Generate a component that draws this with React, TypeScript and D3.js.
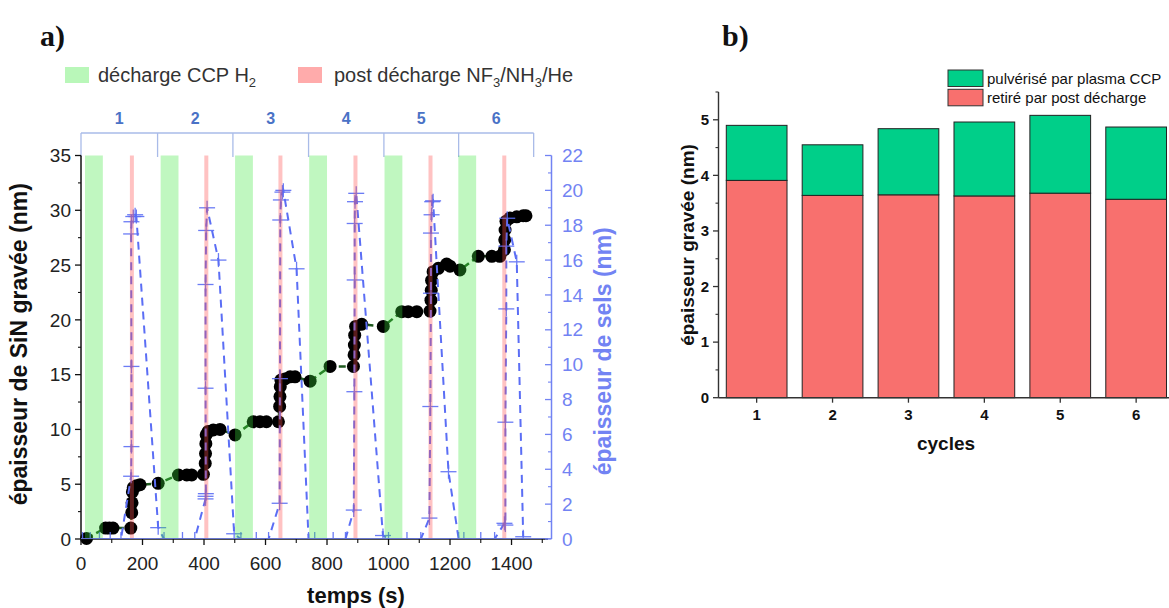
import React from 'react';
import * as d3 from 'd3';

// ---------- Panel a) data ----------
const timeTicks = [0, 200, 400, 600, 800, 1000, 1200, 1400];
const timeMinor = [100, 300, 500, 700, 900, 1100, 1300, 1500];
const sinTicks = [0, 5, 10, 15, 20, 25, 30, 35];
const saltTicks = [0, 2, 4, 6, 8, 10, 12, 14, 16, 18, 20, 22];
const cycleLabels = ['1', '2', '3', '4', '5', '6'];
const cycleBounds = [0, 249, 494, 740, 985, 1228, 1472];
const greenStarts = [13, 259, 501, 742, 987, 1227];
const greenDur = 58;
const redStarts = [159, 401, 642, 886, 1130, 1370];
const redDur = 13;

// SiN etched thickness (nm) vs time (s)
const sinTime = [18, 80, 92, 104, 162, 165, 166, 167, 170, 180, 192,
  251, 317, 344, 360, 398, 404, 405, 406, 407, 413, 430, 452,
  501, 560, 582, 603, 642, 646, 647, 648, 650, 663, 680, 696,
  745, 810, 886, 888, 889, 890, 893, 913,
  983, 1043, 1064, 1092, 1135, 1138, 1139, 1140, 1145, 1162, 1189, 1200,
  1232, 1292, 1336, 1362, 1377, 1378, 1379, 1382, 1395, 1417, 1438, 1447];
const sinValue = [0.05, 1.0, 1.0, 1.0, 1.0, 2.4, 3.3, 4.3, 4.7, 4.85, 4.95,
  5.08, 5.84, 5.84, 5.84, 5.9, 6.9, 7.8, 8.7, 9.5, 9.8, 9.95, 10.0,
  9.5, 10.7, 10.7, 10.7, 10.7, 12.1, 13.0, 13.9, 14.5, 14.6, 14.8, 14.8,
  14.4, 15.75, 15.75, 16.8, 17.7, 18.6, 19.4, 19.6,
  19.4, 20.75, 20.75, 20.75, 20.8, 21.8, 22.7, 23.6, 24.4, 24.7, 25.1, 24.9,
  24.55, 25.8, 25.8, 25.8, 26.4, 27.3, 28.2, 29.0, 29.3, 29.4, 29.5, 29.5];

// salt thickness (nm) vs time (s)
const saltTime = [5, 30, 60, 95, 130,
  163, 164, 164, 163, 164, 170, 176, 180, 251,
  270, 330, 370,
  405, 405, 406, 405, 405, 407, 410, 447, 498,
  520, 570, 610,
  646, 647, 648, 650, 655, 658, 701, 740,
  760, 820, 860,
  887, 889, 890, 890, 891, 895, 982,
  1000, 1060, 1105,
  1133, 1136, 1138, 1138, 1140, 1142, 1145, 1195, 1228,
  1245, 1300, 1345,
  1377, 1380, 1380, 1383, 1383, 1386, 1417, 1438];
const saltValue = [0, 0, 0, 0, 0,
  3.6, 5.3, 9.9, 17.5, 18.2, 18.5, 18.6, 18.5, 0.65,
  0, 0, 0,
  2.3, 2.45, 2.6, 8.65, 14.6, 17.7, 19.0, 16.0, 0.3,
  0, 0, 0,
  2.05, 9.2, 18.3, 19.45, 19.9, 20.0, 15.5, 0,
  0, 0, 0,
  1.66, 8.45, 14.86, 18.1, 19.35, 19.83, 0.2,
  0, 0, 0,
  1.2, 7.6, 14.1, 17.55, 18.6, 19.35, 19.4, 3.86, 0,
  0, 0, 0,
  0.9, 0.8, 6.7, 13.2, 16.8, 18.4, 15.9, 0.13];

// ---------- Panel b) data ----------
const cycles = ['1', '2', '3', '4', '5', '6'];
const removedPost = [3.91, 3.64, 3.65, 3.63, 3.68, 3.57];
const totalEtched = [4.90, 4.55, 4.84, 4.96, 5.08, 4.87];
const barTicks = [0, 1, 2, 3, 4, 5];
const barMinor = [0.5, 1.5, 2.5, 3.5, 4.5, 5.5];

const SANS = '"Liberation Sans", Arial, Helvetica, sans-serif';
const SERIF = '"Liberation Serif", "DejaVu Serif", serif';
const BLUE = '#5b6ef5';
const AXBLUE = '#7283f3';

export default function App() {
  // panel a scales
  const xL = d3.scaleLinear().domain([0, 1530]).range([81, 551.5]);
  const yL = d3.scaleLinear().domain([0, 35]).range([539, 155.5]);
  const yR = d3.scaleLinear().domain([0, 22]).range([539, 155.5]);

  const sinPts: [number, number][] = sinTime.map((t, i) => [xL(t), yL(sinValue[i])]);
  const saltPts: [number, number][] = saltTime.map((t, i) => [xL(t), yR(saltValue[i])]);
  const lineGen = d3.line<[number, number]>().x(d => d[0]).y(d => d[1]);

  const sinMinor = d3.range(2.5, 35, 5);
  const saltMinor = d3.range(1, 22, 2);

  // panel b scales
  const xB = d3.scaleBand<string>().domain(cycles).range([718.7, 1174.1]).paddingInner(0.2).paddingOuter(0.1);
  const yB = d3.scaleLinear().domain([0, 5.5]).range([397.7, 92]);

  return (
    <svg width={1169} height={608} style={{ position: 'absolute', left: 0, top: 0, background: '#fff' }}
      xmlns="http://www.w3.org/2000/svg">
      <defs>
        <clipPath id="plotA">
          <rect x={81} y={140} width={471} height={399} />
        </clipPath>
      </defs>
      <rect x={0} y={0} width={1169} height={608} fill="#fff" />

      {/* ===== Panel a ===== */}
      <text x={40} y={46} fontFamily={SERIF} fontSize={30} fontWeight="bold" fill="#111">a)</text>

      {/* legend */}
      <rect x={65} y={67} width={24} height={16} fill="#b9f7b9" />
      <text x={98} y={82} fontFamily={SANS} fontSize={20} fill="#333">
        décharge CCP H<tspan fontSize={13} dy={5}>2</tspan>
      </text>
      <rect x={298} y={67} width={24} height={16} fill="#ffabab" />
      <text x={334} y={82} fontFamily={SANS} fontSize={20} fill="#333">
        post décharge NF<tspan fontSize={13} dy={5}>3</tspan><tspan dy={-5}>/NH</tspan><tspan fontSize={13} dy={5}>3</tspan><tspan dy={-5}>/He</tspan>
      </text>

      {/* cycle bracket */}
      <line x1={xL(cycleBounds[0])} x2={xL(cycleBounds[cycleBounds.length - 1])} y1={133} y2={133}
        stroke="#a9bbe8" strokeWidth={1.3} />
      {cycleBounds.map((b, i) => (
        <line key={'cb' + i} x1={xL(b)} x2={xL(b)} y1={133} y2={157} stroke="#a9bbe8" strokeWidth={1.3} />
      ))}
      {cycleLabels.map((c, i) => (
        <text key={'cl' + i} x={xL((cycleBounds[i] + cycleBounds[i + 1]) / 2)} y={124} textAnchor="middle"
          fontFamily={SANS} fontSize={16} fontWeight="bold" fill="#4a72c6">{c}</text>
      ))}

      {/* SiN series */}
      <path d={lineGen(sinPts) || ''} fill="none" stroke="#1f5a1f" strokeWidth={2.5} strokeDasharray="7 4" />
      {sinPts.map((p, i) => (
        <circle key={'s' + i} cx={p[0]} cy={p[1]} r={6.5} fill="#000" />
      ))}

      {/* salt series */}
      <g clipPath="url(#plotA)">
        <path d={lineGen(saltPts) || ''} fill="none" stroke={BLUE} strokeWidth={2} strokeDasharray="8 6" />
        {saltPts.map((p, i) => (
          <g key={'p' + i} stroke={BLUE} strokeWidth={1.3} opacity={0.9}>
            <line x1={p[0] - 8} x2={p[0] + 8} y1={p[1]} y2={p[1]} />
            <line x1={p[0]} x2={p[0]} y1={p[1] - 7} y2={p[1] + 7} />
          </g>
        ))}
      </g>

      {/* bands (translucent, on top) */}
      {greenStarts.map((s, i) => (
        <rect key={'g' + i} x={xL(s)} y={yL(35)} width={xL(s + greenDur) - xL(s)} height={yL(0) - yL(35)}
          fill="rgb(60,230,60)" fillOpacity={0.32} />
      ))}
      {redStarts.map((s, i) => (
        <rect key={'r' + i} x={xL(s)} y={yL(35)} width={xL(s + redDur) - xL(s)} height={yL(0) - yL(35)}
          fill="rgb(255,80,80)" fillOpacity={0.35} />
      ))}

      {/* left axis */}
      <line x1={81} x2={81} y1={yL(35)} y2={yL(0)} stroke="#111" strokeWidth={1.5} />
      {sinTicks.map(v => (
        <g key={'lt' + v}>
          <line x1={75} x2={81} y1={yL(v)} y2={yL(v)} stroke="#111" strokeWidth={1.3} />
          <text x={71} y={yL(v)} dy="0.35em" textAnchor="end" fontFamily={SANS} fontSize={19} fill="#222">{v}</text>
        </g>
      ))}
      {sinMinor.map(v => (
        <line key={'lm' + v} x1={78} x2={81} y1={yL(v)} y2={yL(v)} stroke="#111" strokeWidth={1.1} />
      ))}
      <text transform={`translate(27,${(yL(0) + yL(35)) / 2 - 3}) rotate(-90)`} textAnchor="middle"
        fontFamily={SANS} fontSize={23} fontWeight="bold" fill="#111">épaisseur de SiN gravée (nm)</text>

      {/* bottom axis */}
      <line x1={81} x2={548} y1={539} y2={539} stroke="#111" strokeWidth={1.5} />
      <line x1={81} x2={551.5} y1={538.5} y2={538.5} stroke={AXBLUE} strokeWidth={1} opacity={0.8} />
      {timeTicks.map(t => (
        <g key={'bt' + t}>
          <line x1={xL(t)} x2={xL(t)} y1={539} y2={545} stroke="#111" strokeWidth={1.3} />
          <text x={xL(t)} y={563} dy="0.35em" textAnchor="middle" fontFamily={SANS} fontSize={19} fill="#222">{t}</text>
        </g>
      ))}
      {timeMinor.map(t => (
        <line key={'bm' + t} x1={xL(t)} x2={xL(t)} y1={539} y2={543} stroke="#111" strokeWidth={1.1} />
      ))}
      <text x={356} y={595} dy="0.35em" textAnchor="middle" fontFamily={SANS} fontSize={22} fontWeight="bold" fill="#111">temps (s)</text>

      {/* right axis */}
      <line x1={551.5} x2={551.5} y1={yR(22)} y2={yR(0)} stroke={AXBLUE} strokeWidth={1.5} />
      {saltTicks.map(v => (
        <g key={'rt' + v}>
          <line x1={545} x2={551.5} y1={yR(v)} y2={yR(v)} stroke={AXBLUE} strokeWidth={1.3} />
          <text x={562} y={yR(v)} dy="0.35em" textAnchor="start" fontFamily={SANS} fontSize={19} fill={AXBLUE}>{v}</text>
        </g>
      ))}
      {saltMinor.map(v => (
        <line key={'rm' + v} x1={548} x2={551.5} y1={yR(v)} y2={yR(v)} stroke={AXBLUE} strokeWidth={1.1} />
      ))}
      <text transform={`translate(611,${(yR(0) + yR(22)) / 2 + 4}) rotate(-90)`} textAnchor="middle"
        fontFamily={SANS} fontSize={23} fontWeight="bold" fill={AXBLUE}>épaisseur de sels (nm)</text>

      {/* ===== Panel b ===== */}
      <text x={722} y={46} fontFamily={SERIF} fontSize={30} fontWeight="bold" fill="#111">b)</text>

      {cycles.map((c, i) => (
        <g key={'bar' + c}>
          <rect x={xB(c)} y={yB(removedPost[i])} width={xB.bandwidth()} height={yB(0) - yB(removedPost[i])}
            fill="#f8706e" stroke="#222" strokeWidth={1} />
          <rect x={xB(c)} y={yB(totalEtched[i])} width={xB.bandwidth()} height={yB(removedPost[i]) - yB(totalEtched[i])}
            fill="#00cf89" stroke="#222" strokeWidth={1} />
        </g>
      ))}

      {/* axes b */}
      <line x1={718.5} x2={718.5} y1={92} y2={yB(0)} stroke="#333" strokeWidth={1.4} />
      <line x1={718.5} x2={1169} y1={yB(0)} y2={yB(0)} stroke="#333" strokeWidth={1.4} />
      {barTicks.map(v => (
        <g key={'byt' + v}>
          <line x1={713} x2={718.5} y1={yB(v)} y2={yB(v)} stroke="#333" strokeWidth={1.3} />
          <text x={709} y={yB(v)} dy="0.35em" textAnchor="end" fontFamily={SANS} fontSize={15} fontWeight="bold" fill="#111">{v}</text>
        </g>
      ))}
      {barMinor.map(v => (
        <line key={'bym' + v} x1={715.5} x2={718.5} y1={yB(v)} y2={yB(v)} stroke="#333" strokeWidth={1.1} />
      ))}
      {cycles.map(c => (
        <g key={'bxt' + c}>
          <line x1={(xB(c) || 0) + xB.bandwidth() / 2} x2={(xB(c) || 0) + xB.bandwidth() / 2}
            y1={yB(0)} y2={yB(0) + 5} stroke="#333" strokeWidth={1.3} />
          <text x={(xB(c) || 0) + xB.bandwidth() / 2} y={415} dy="0.35em" textAnchor="middle"
            fontFamily={SANS} fontSize={15} fontWeight="bold" fill="#111">{c}</text>
        </g>
      ))}
      <text x={946} y={443} dy="0.35em" textAnchor="middle" fontFamily={SANS} fontSize={19} fontWeight="bold" fill="#111">cycles</text>
      <text transform={`translate(694,245) rotate(-90)`} textAnchor="middle"
        fontFamily={SANS} fontSize={19} fontWeight="bold" fill="#111">épaisseur gravée (nm)</text>

      {/* legend b */}
      <rect x={948} y={70} width={35} height={16.5} fill="#00cf89" stroke="#333" strokeWidth={1} />
      <text x={987} y={78.5} dy="0.35em" fontFamily={SANS} fontSize={15} fill="#111">pulvérisé par plasma CCP</text>
      <rect x={948} y={89.3} width={35} height={16.5} fill="#f8706e" stroke="#333" strokeWidth={1} />
      <text x={987} y={97.5} dy="0.35em" fontFamily={SANS} fontSize={15} fill="#111">retiré par post décharge</text>
    </svg>
  );
}
